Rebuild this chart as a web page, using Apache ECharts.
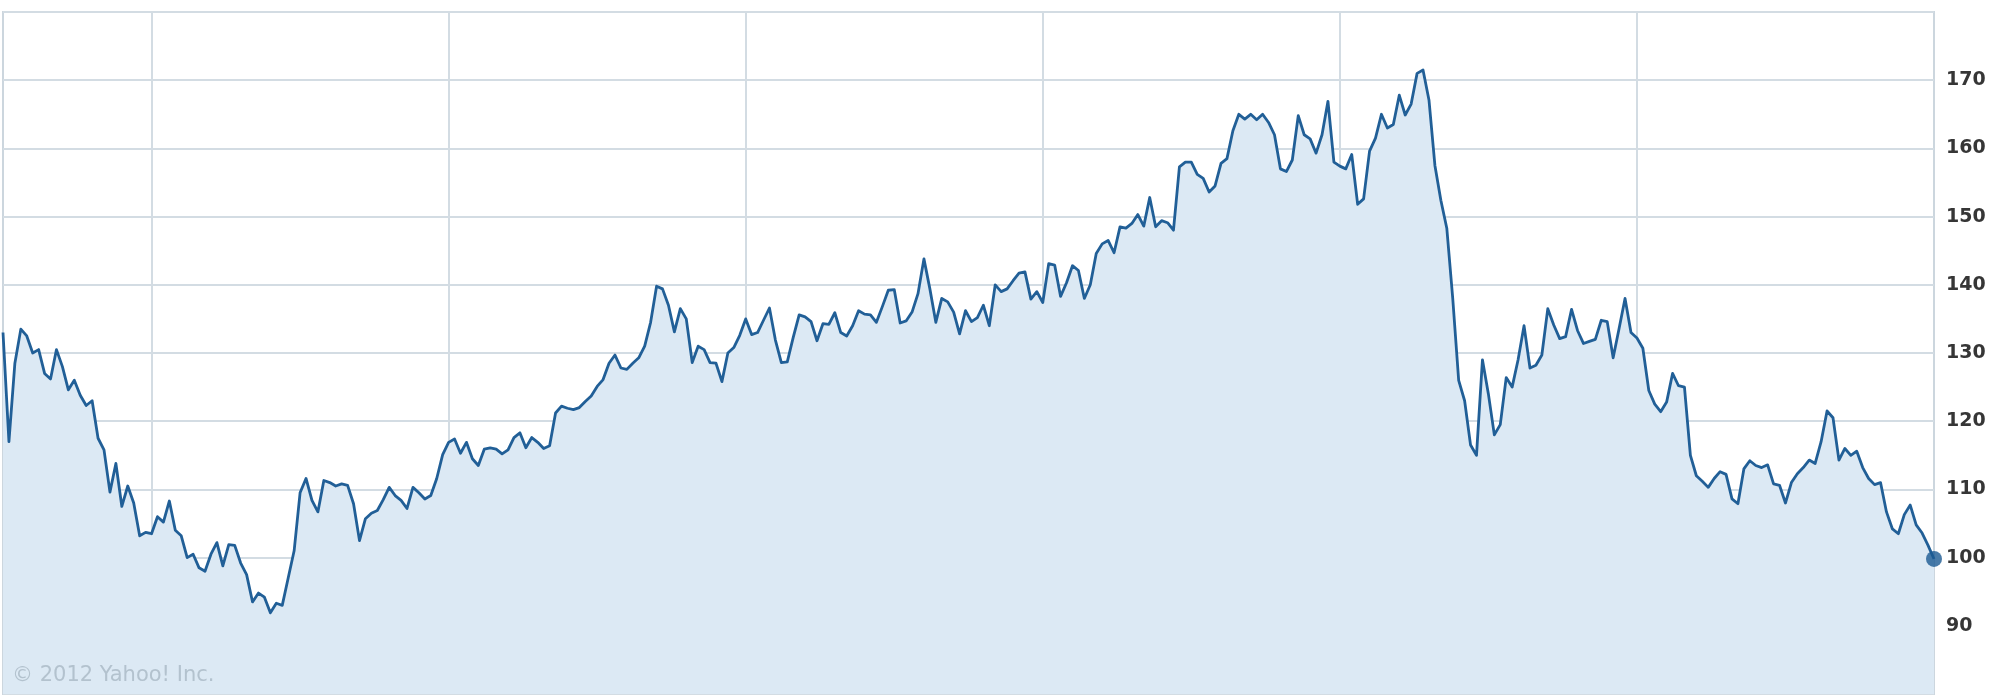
<!DOCTYPE html>
<html>
<head>
<meta charset="utf-8">
<title>Stock price chart</title>
<script src="https://cdn.jsdelivr.net/npm/echarts/dist/echarts.min.js"></script>
<style>
  html, body { margin: 0; padding: 0; background: #ffffff; }
  #chart { width: 2000px; height: 700px; }
</style>
</head>
<body>
<div id="chart"></div>
<script>
// ---- data (daily closes, in order) ----
const closesP1 = [
  133, 117, 128.5, 133.5, 132.5, 130, 130.5, 127, 126.2, 130.5,
  128, 124.6, 126, 123.8, 122.3, 123, 117.5, 115.8, 109.6, 113.8,
  107.5, 110.5, 108, 103.2, 103.7, 103.5, 106, 105.2, 108.3, 104,
  103.2, 100, 100.5, 98.5, 98, 100.5, 102.2, 98.8, 101.9, 101.8,
  99.2, 97.5, 93.5, 94.8, 94.2, 91.9, 93.3, 93, 97, 101,
  109.5, 111.6, 108.4, 106.7, 111.3, 111
];
const closesP2 = [
  110.5, 110.8, 110.6, 107.9, 102.5, 105.7, 106.5, 106.9, 108.5, 110.3,
  109.1, 108.4, 107.2, 110.3, 109.5, 108.6, 109.1, 111.6, 115.1, 116.9,
  117.4, 115.3, 116.9, 114.5, 113.5, 115.9, 116.1, 115.9, 115.2, 115.8,
  117.6, 118.3, 116.1, 117.6, 116.9, 116, 116.4, 121.2, 122.2, 121.9,
  121.7, 122, 122.9, 123.7, 125.1, 126.1, 128.5, 129.7, 127.8, 127.6,
  128.5, 129.3, 131, 134.5, 139.8
];
const closesP3 = [
  139.4, 137, 133.1, 136.5, 135, 128.6, 131, 130.5, 128.6, 128.5,
  125.8, 130, 130.8, 132.6, 135, 132.7, 133, 134.8, 136.6, 131.9,
  128.6, 128.7, 132.3, 135.6, 135.3, 134.6, 131.8, 134.3, 134.2, 135.9,
  133, 132.5, 134, 136.2, 135.7, 135.6, 134.5, 136.8, 139.2, 139.3,
  134.4, 134.7, 136, 138.7, 143.8, 139.4, 134.5, 138, 137.5, 136,
  132.8, 136.2, 134.6, 135.2, 137, 134, 140
];
const closesP4 = [
  139, 139.4, 140.6, 141.7, 141.9, 137.9, 139, 137.4, 143.1, 142.9,
  138.3, 140.3, 142.8, 142.1, 138, 140, 144.6, 146, 146.5, 144.7,
  148.5, 148.3, 149, 150.3, 148.6, 152.8, 148.5, 149.4, 149.1, 148,
  157.3, 158, 158, 156.2, 155.6, 153.6, 154.5, 157.8, 158.5, 162.6,
  165, 164.3, 165, 164.2, 165, 163.8, 162, 157, 156.6, 158.3,
  164.8, 162, 161.4, 159.3, 162, 166.9
];
const closesP5 = [
  158, 157.4, 157, 159.1, 151.8, 152.6, 159.6, 161.5, 165, 163,
  163.5, 167.8, 164.9, 166.5, 171, 171.5, 167.1, 157.5, 152.4, 148.3,
  138, 126, 123, 116.5, 115, 129, 124, 118, 119.5, 126.4,
  125, 129, 134, 127.8, 128.2, 129.7, 136.5, 134.1, 132.1, 132.4,
  136.4, 133.3, 131.4, 131.7, 132, 134.8, 134.6, 129.3, 133.6, 138,
  133, 132.2, 130.7, 124.5
];
const closesP6 = [
  122.5, 121.4, 122.8, 127, 125.2, 125, 115, 112, 111.2, 110.3,
  111.6, 112.6, 112.2, 108.6, 107.9, 113, 114.2, 113.5, 113.2, 113.6,
  110.8, 110.6, 108, 111, 112.3, 113.2, 114.3, 113.8, 117, 121.5,
  120.5, 114.3, 116, 115, 115.6, 113.2, 111.6, 110.7, 111, 106.7,
  104.2, 103.5, 106.3, 107.7, 104.8, 103.6, 101.8, 99.8
];
// trading-day positions of the vertical period lines
const periodStartDays = [25, 75, 125, 175, 225, 275];
// price tick labels shown on the right axis
const priceTickLabels = [90, 100, 110, 120, 130, 140, 150, 160, 170];
const watermarkText = '© 2012 Yahoo! Inc.';

// ---- build ----
const closes = [].concat(closesP1, closesP2, closesP3, closesP4, closesP5, closesP6);
const dayIndex = closes.map((_, i) => String(i));
const lastDay = dayIndex[dayIndex.length - 1];
const lastClose = closes[closes.length - 1];

const lineColor = '#215f97';
const fillColor = '#dce9f4';
const gridColor = '#d3dce3';

const chart = echarts.init(document.getElementById('chart'), null, { renderer: 'canvas' });
chart.setOption({
  animation: false,
  backgroundColor: '#ffffff',
  grid: {
    left: 3, right: 66, top: 12, bottom: 6,
    show: true, borderColor: '#ccd6de', borderWidth: 2,
    backgroundColor: 'transparent'
  },
  xAxis: {
    type: 'category',
    data: dayIndex,
    boundaryGap: false,
    axisLine: { show: false },
    axisTick: { show: false },
    axisLabel: { show: false },
    splitLine: {
      show: true,
      interval: (idx) => periodStartDays.includes(idx),
      lineStyle: { color: gridColor, width: 2 }
    }
  },
  yAxis: {
    type: 'value',
    position: 'right',
    min: 80,
    max: 180,
    interval: 10,
    axisLine: { show: false },
    axisTick: { show: false },
    axisLabel: {
      margin: 12,
      color: '#363636',
      fontFamily: 'DejaVu Sans',
      fontWeight: 'bold',
      fontSize: 19,
      formatter: (v) => priceTickLabels.includes(v) ? String(v) : ''
    },
    splitLine: { show: true, lineStyle: { color: gridColor, width: 2 } }
  },
  graphic: [{
    type: 'text',
    left: 12,
    top: 665,
    z: 10,
    style: {
      text: watermarkText,
      fill: '#b3c2ce',
      font: '21px "DejaVu Sans"'
    }
  }],
  series: [
    {
      type: 'line',
      data: closes,
      showSymbol: false,
      symbol: 'none',
      lineStyle: { color: lineColor, width: 2.8, join: 'round' },
      areaStyle: { color: fillColor, opacity: 1, origin: 'start' },
      z: 3
    },
    {
      type: 'scatter',
      data: [[lastDay, lastClose]],
      symbol: 'circle',
      symbolSize: 16,
      itemStyle: { color: '#1c5a92' },
      z: 4
    }
  ]
});
</script>
</body>
</html>
